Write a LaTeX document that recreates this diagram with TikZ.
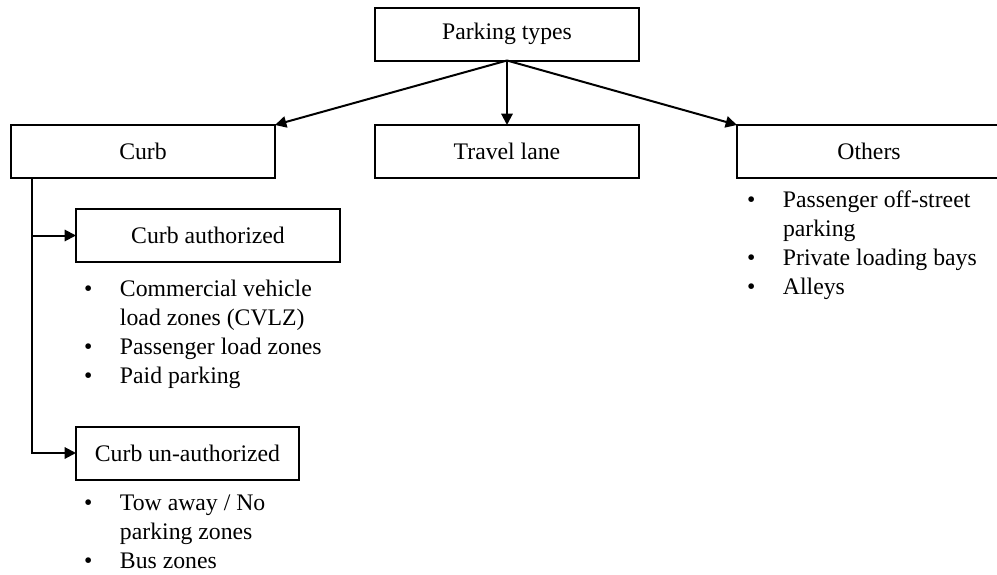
\documentclass[tikz,border=0pt]{standalone}
\usepackage{fontspec}
\setmainfont{Liberation Serif}
\usetikzlibrary{arrows.meta}
\newcommand{\itm}{\makebox[27pt][l]{\textbullet}}
\newcommand{\cnt}{\hspace*{27pt}}

\begin{document}
\begin{tikzpicture}[x=0.75pt, y=-0.75pt, line width=1.5pt,
  box/.style={draw, minimum width=198pt, minimum height=39.75pt, inner sep=0pt, outer sep=0pt, font=\fontsize{17.8}{21.75}\selectfont},
  list/.style={anchor=base west, align=left, inner sep=0pt, font=\fontsize{17.8}{21.75}\selectfont},
  arr/.style={-{Triangle[length=8.5pt,width=8.5pt]}}]
\useasboundingbox (0,0) rectangle (997,575);

\node[box] (types) at (507,34) {Parking types};
\node[box] (curb) at (143,151.5) {Curb};
\node[box] (lane) at (507,151.5) {Travel lane};
\node[box] (others) at (869,151.5) {Others};
\node[box] (auth) at (208,235.5) {Curb authorized};
\node[box, minimum width=167.25pt] (unauth) at (187.5,453) {Curb un-authorized};

\draw[arr] (types.south) -- (curb.north east);
\draw[arr] (types.south) -- (lane.north);
\draw[arr] (types.south) -- (others.north west);

\coordinate (stem) at ([xshift=15.75pt]curb.south west);
\draw[arr] (stem) |- (unauth.west);
\draw[arr] (stem |- auth.west) -- (auth.west);

\node[list] (authlist) at (83,383) {\itm Commercial vehicle\\ \cnt load zones (CVLZ)\\ \itm Passenger load zones\\ \itm Paid parking};
\node[list] (unauthlist) at (83,568) {\itm Tow away / No\\ \cnt parking zones\\ \itm Bus zones};
\node[list] (otherlist) at (746,294.5) {\itm Passenger off-street\\ \cnt parking\\ \itm Private loading bays\\ \itm Alleys};
\end{tikzpicture}
\end{document}
